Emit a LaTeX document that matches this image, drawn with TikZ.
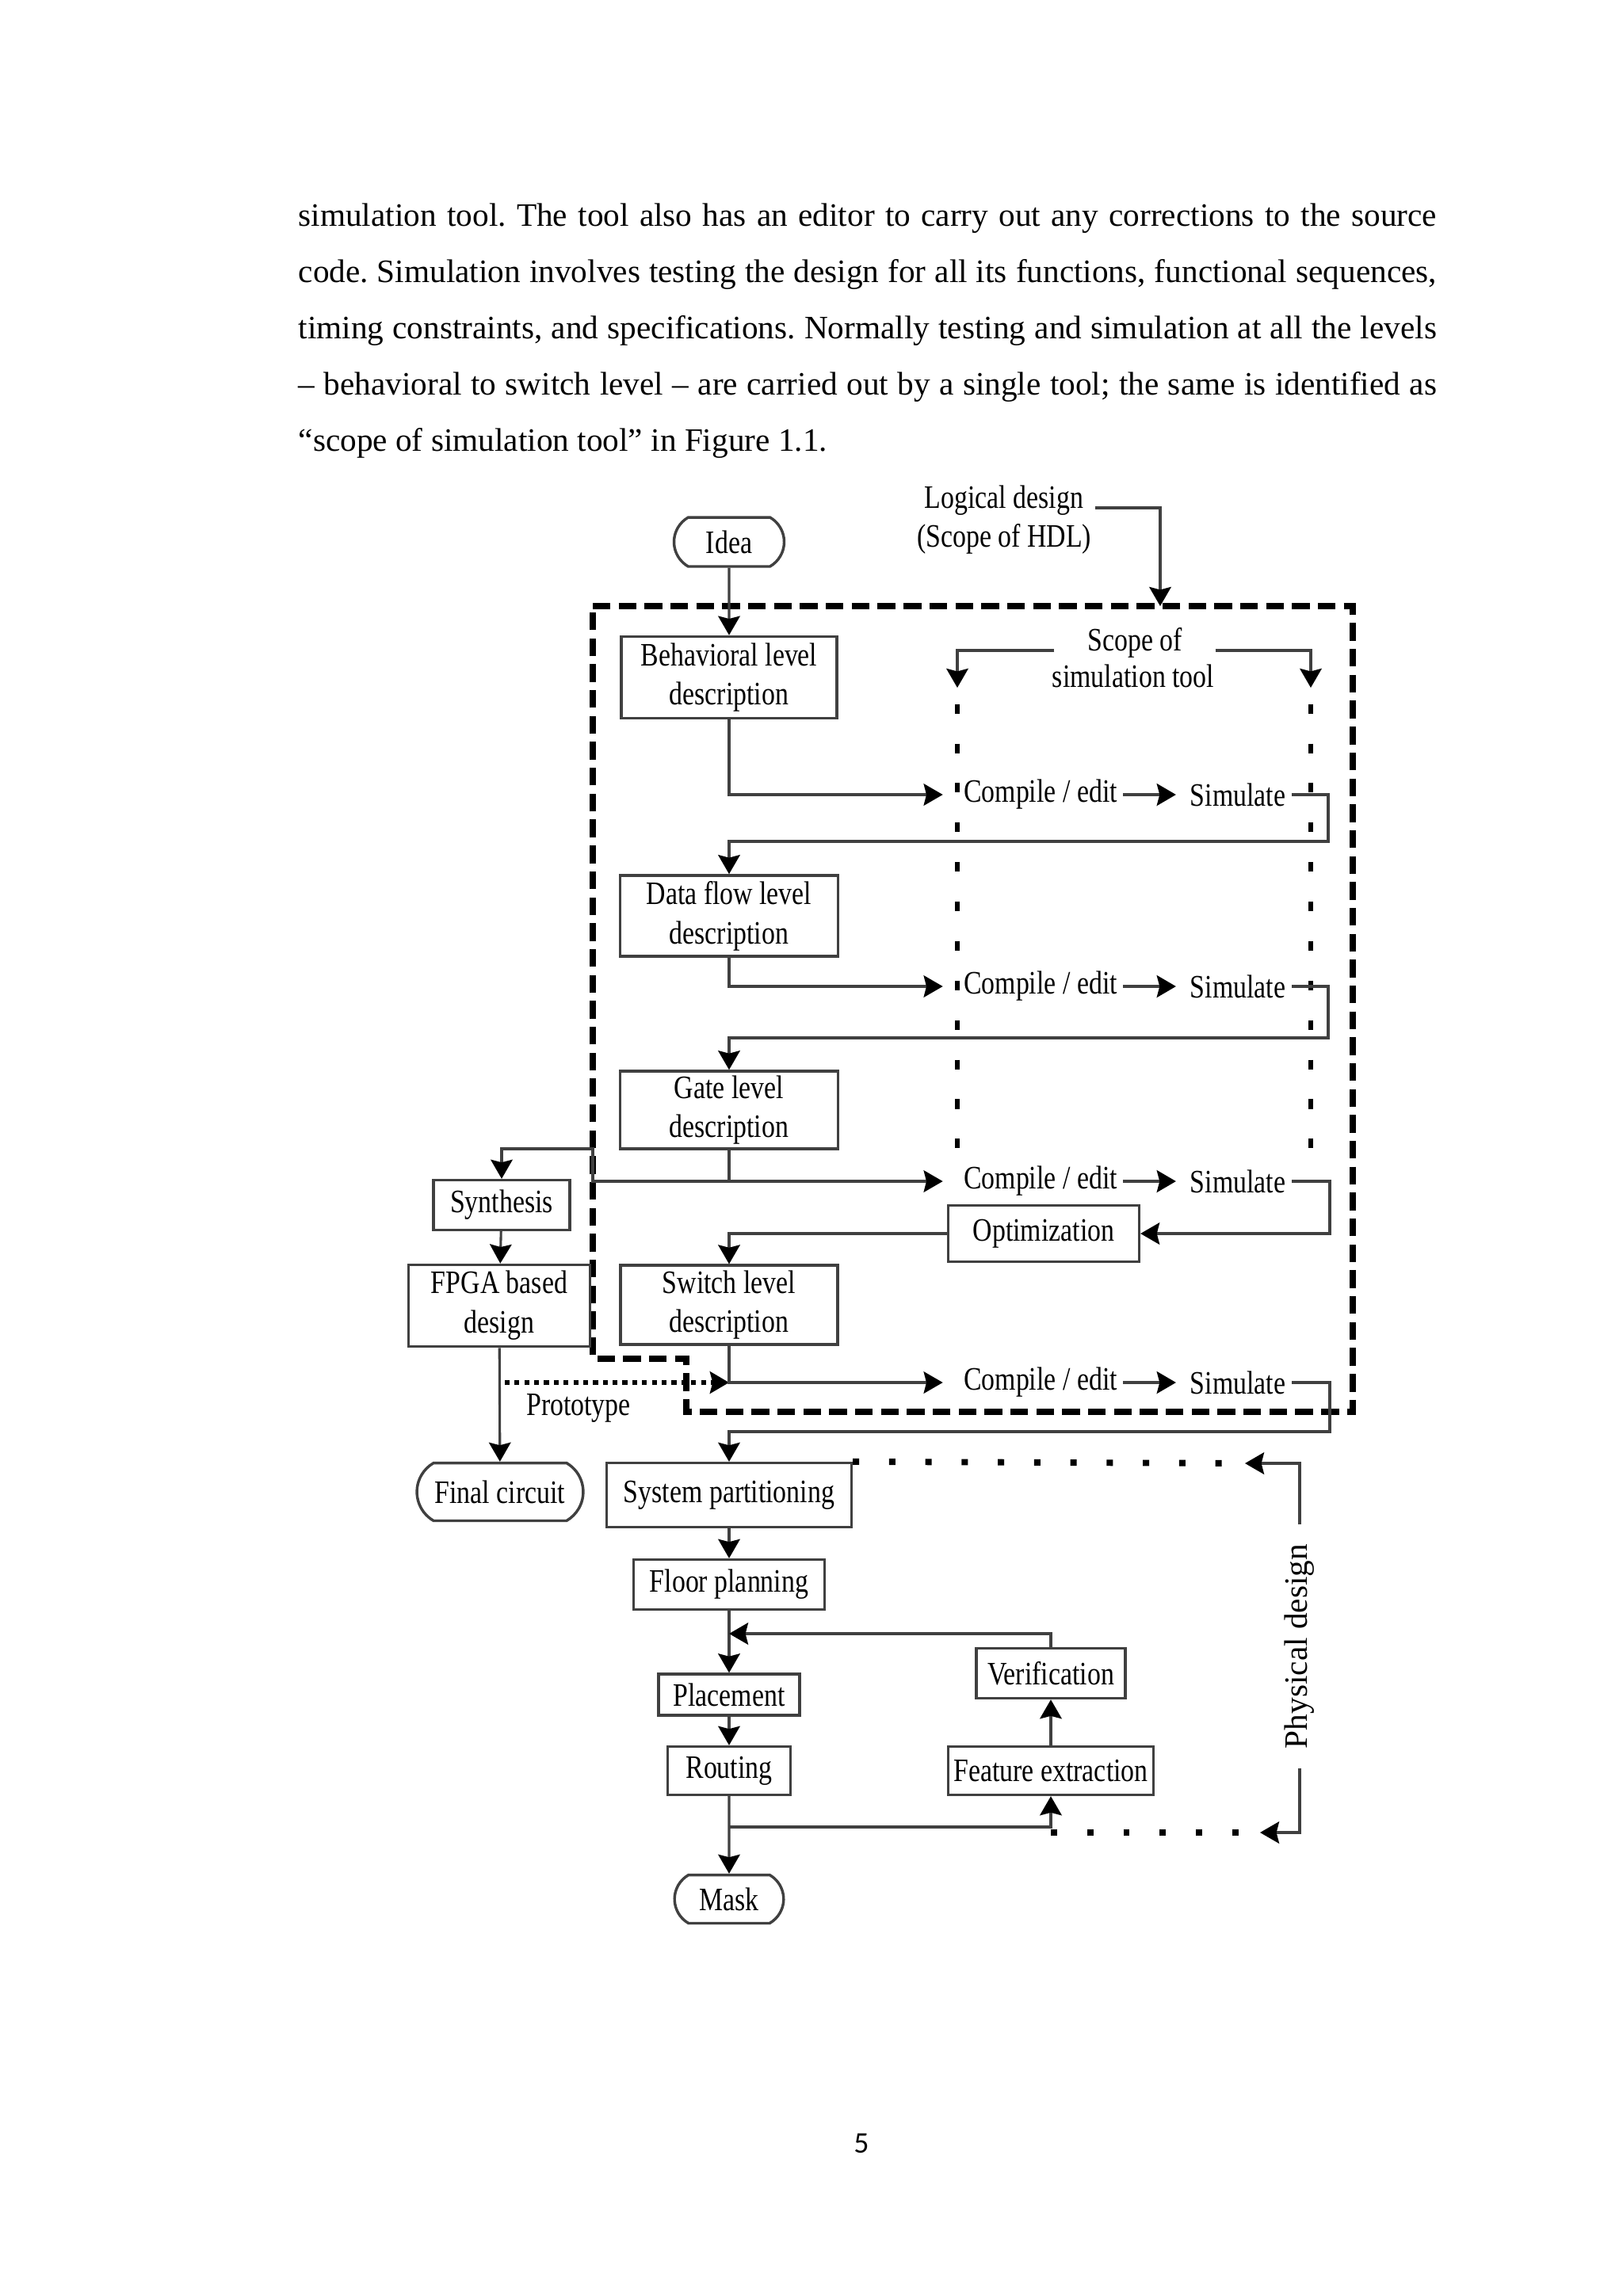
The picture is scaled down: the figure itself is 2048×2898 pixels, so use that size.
\documentclass[tikz,border=0pt]{standalone}
\usepackage{fontspec}
\setmainfont{Liberation Serif}
\newfontfamily\dfont[FakeStretch=0.82]{Liberation Serif}
\newfontfamily\pfont{Carlito}
\usetikzlibrary{arrows.meta,shapes.misc}
\newcommand\dfs{\dfont\fontsize{12pt}{14.5pt}\selectfont}
\begin{document}
\begin{tikzpicture}[x=0.2907pt,y=-0.2907pt,
  box/.style={draw=black!75, line width=1pt, rectangle, inner sep=0pt, align=center, font=\dfs},
  term/.style={draw=black!75, line width=1pt, rounded rectangle, rounded rectangle arc length=120, inner sep=0pt, font=\dfs},
  lbl/.style={font=\dfs, inner sep=0pt},
  cmp/.style={font=\dfs, inner ysep=0pt, inner xsep=2pt},
  conn/.style={draw=black!75, line width=0.9pt},
  tip/.style={-{Stealth[length=7pt,width=8pt,inset=1pt,color=black]}},
  arr/.style={conn, tip},
  bigdash/.style={draw=black, line width=2.6pt, dash pattern=on 6.5pt off 3pt},
  scopedot/.style={draw=black, line width=1.6pt, dash pattern=on 3.5pt off 11pt},
  physdot/.style={draw=black, line width=2.3pt, dash pattern=on 2.3pt off 11pt},
  protodot/.style={draw=black, line width=1.8pt, dash pattern=on 1.8pt off 1.8pt}
]
\fill[white] (0,0) rectangle (2048,2898);
\useasboundingbox (0,0) rectangle (2048,2898);

% paragraph
\node[anchor=base west, inner sep=0pt, text width=417.5pt, align=justify,
      font=\fontsize{12pt}{20.7pt}\selectfont] (para) at (376,285)
 {\frenchspacing\hyphenpenalty=10000\tolerance=9999 simulation tool. The tool also has an editor to carry out any corrections to the source\linebreak
 code. Simulation involves testing the design for all its functions, functional sequences,\linebreak
 timing constraints, and specifications. Normally testing and simulation at all the levels\linebreak
 – behavioral to switch level – are carried out by a single tool; the same is identified as\linebreak
 “scope of simulation tool” in Figure 1.1.};

% page number
\node[font=\pfont\fontsize{11pt}{13pt}\selectfont, anchor=base, inner sep=0pt] (pg) at (1087,2717) {5};

% big dashed HDL scope border
\draw[bigdash] (748,765) -- (1707,765) -- (1707,1782) -- (866,1782) -- (866,1715) -- (748,1715) -- cycle;

% nodes
\node[term, minimum width=40.4pt, minimum height=18pt] (idea) at (920,684) {Idea};
\node[box, minimum width=79pt, minimum height=30pt] (beh) at (920,855) {Behavioral level\\description};
\node[box, minimum width=80pt, minimum height=29.7pt] (data) at (920,1156) {Data flow level\\description};
\node[box, minimum width=80pt, minimum height=28.5pt] (gate) at (920,1401) {Gate level\\description};
\node[box, minimum width=50pt, minimum height=18.3pt] (synth) at (633,1521) {Synthesis};
\node[box, minimum width=66.6pt, minimum height=30pt] (fpga) at (630,1648) {FPGA based\\design};
\node[box, minimum width=70pt, minimum height=20.6pt] (opt) at (1317,1557) {Optimization};
\node[box, minimum width=79.7pt, minimum height=29pt] (sw) at (920,1647) {Switch level\\description};
\node[term, minimum width=61pt, minimum height=21.2pt] (final) at (631,1883) {Final circuit};
\node[box, minimum width=89.8pt, minimum height=23.5pt] (sys) at (920,1887) {System partitioning};
\node[box, minimum width=70pt, minimum height=18.3pt] (floor) at (920,2000) {Floor planning};
\node[box, minimum width=51.7pt, minimum height=15.1pt] (place) at (920,2139) {Placement};
\node[box, minimum width=45pt, minimum height=17.7pt] (route) at (920,2235) {Routing};
\node[box, minimum width=54.7pt, minimum height=18.3pt] (verif) at (1326,2112) {Verification};
\node[box, minimum width=75.3pt, minimum height=17.7pt] (feat) at (1326,2235) {Feature extraction};
\node[term, minimum width=40pt, minimum height=17.7pt] (mask) at (920,2397) {Mask};

% labels
\node[lbl, inner xsep=4pt, anchor=base] (ld1) at (1267,641) {Logical design};
\node[lbl, anchor=base] (ld2) at (1267,690) {(Scope of HDL)};
\node[lbl, inner xsep=12pt, anchor=base] (sc1) at (1432,821) {Scope of};
\node[lbl, anchor=base] (sc2) at (1430,867) {simulation tool};
\node[lbl, anchor=base] (proto) at (730,1786) {Prototype};
\node[rotate=90, font=\fontsize{12pt}{14pt}\selectfont, inner xsep=7pt, inner ysep=0pt] (pd) at (1640,2078) {Physical design};

\node[cmp] (c1) at (1313,1003) {Compile / edit};
\node[cmp] (s1) at (1562,1003) {Simulate};
\node[cmp] (c2) at (1313,1245) {Compile / edit};
\node[cmp] (s2) at (1562,1245) {Simulate};
\node[cmp] (c3) at (1313,1491) {Compile / edit};
\node[cmp] (s3) at (1562,1491) {Simulate};
\node[cmp] (c4) at (1313,1745) {Compile / edit};
\node[cmp] (s4) at (1562,1745) {Simulate};

% coordinates
\coordinate (bt) at (1464,765);
\coordinate (scl) at (1208,868);
\coordinate (scr) at (1654,868);
\coordinate (sclb) at (1208,1470);
\coordinate (scrb) at (1654,1470);
\coordinate (ptop) at (1571,1847);
\coordinate (pbot) at (1590,2313);
\coordinate (fb) at (920,2062);
\coordinate (jb) at (920,2306);

% logical design pointer
\draw[arr] (ld1.base east) -| (bt);
% scope of simulation tool
\draw[arr] (sc1.base west) -| (scl);
\draw[arr] (sc1.base east) -| (scr);
\draw[scopedot, dash phase=-6pt] (scl) -- (sclb);
\draw[scopedot, dash phase=-6pt] (scr) -- (scrb);

% main flow
\draw[arr] (idea) -- (beh);
\draw[arr, shorten >=5.5pt] (beh.south) |- (c1.west);
\draw[arr, line width=1.3pt, shorten >=3pt] (c1.east) -- (s1.west);
\draw[arr] (s1.east) -| (1676,1062) -| (data.north);

\draw[arr, shorten >=5.5pt] (data.south) |- (c2.west);
\draw[arr, line width=1.3pt, shorten >=3pt] (c2.east) -- (s2.west);
\draw[arr] (s2.east) -| (1676,1310) -| (gate.north);

\draw[arr, shorten >=5.5pt] (gate.south) |- (c3.west);
\draw[arr] (gate.south |- c3.west) -- (748,1491) -- (748,1450) -| (synth.north);
\draw[arr, line width=1.3pt, shorten >=3pt] (c3.east) -- (s3.west);
\draw[arr] (s3.east) -| (1678,1557) -- (opt.east);
\draw[arr] (opt.west) -| (sw.north);

\draw[arr] (synth) -- (fpga);
\draw[arr] (fpga) -- (final);
\draw[protodot, tip] ([xshift=2pt]fpga.south |- c4.west) -- (sw.south |- c4.west);

\draw[arr, shorten >=5.5pt] (sw.south) |- (c4.west);
\draw[arr, line width=1.3pt, shorten >=3pt] (c4.east) -- (s4.west);
\draw[arr] (s4.east) -| (1678,1807) -| (sys.north);

% physical design
\draw[arr] (pd.east) |- (ptop);
\draw[physdot] (sys.north east) -- (ptop);
\draw[arr] (pd.west) |- (pbot);
\draw[physdot] (feat.south |- pbot) -- (pbot);

\draw[arr] (sys) -- (floor);
\draw[arr] (floor) -- (place);
\draw[arr] (verif.north) |- (fb);
\draw[arr] (place) -- (route);
\draw[arr] (route) -- (mask);
\draw[arr] (jb) -| (feat.south);
\draw[arr] (feat) -- (verif);
\end{tikzpicture}
\end{document}
